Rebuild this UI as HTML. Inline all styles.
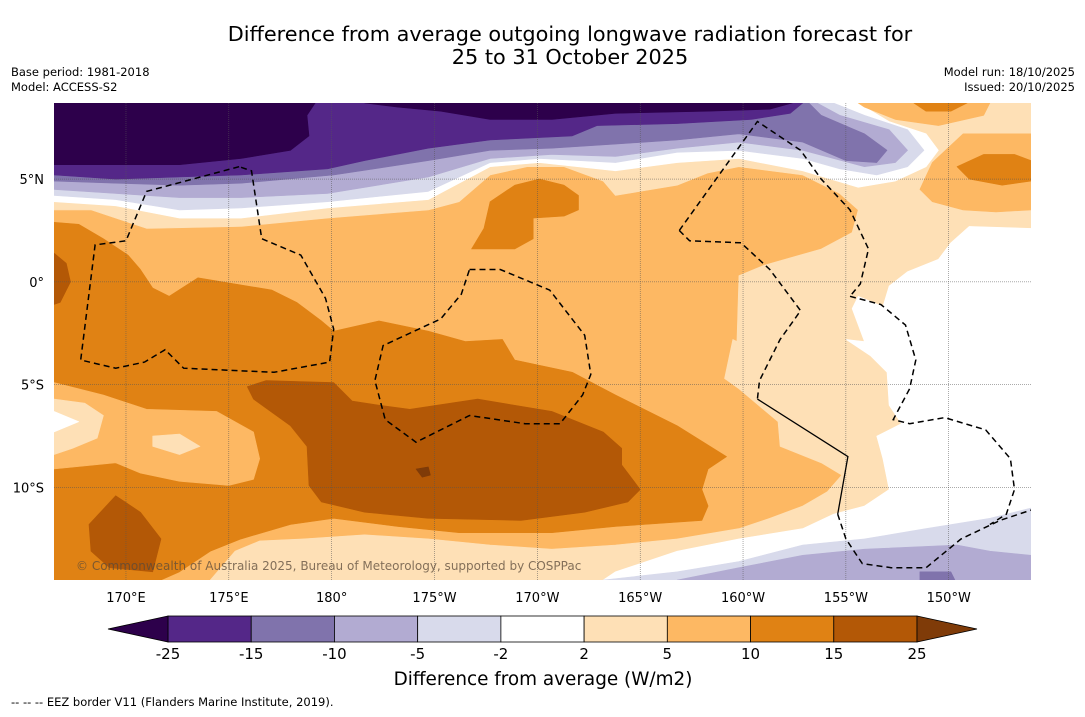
<!DOCTYPE html>
<html><head><meta charset="utf-8"><style>
html,body{margin:0;padding:0;background:#fff;}
body{width:1085px;height:713px;overflow:hidden;font-family:"DejaVu Sans","Liberation Sans",sans-serif;}
</style></head>
<body>
<svg id="chart" width="1085" height="713" viewBox="0 0 1085 713" xmlns="http://www.w3.org/2000/svg" font-family="DejaVu Sans, Liberation Sans, sans-serif">
  <text x="570" y="41" font-size="20.8" text-anchor="middle" fill="#000">Difference from average outgoing longwave radiation forecast for</text>
  <text x="570" y="64" font-size="20.8" text-anchor="middle" fill="#000">25 to 31 October 2025</text>
  <text x="11" y="76" font-size="11.5">Base period: 1981-2018</text>
  <text x="11" y="91" font-size="11.5">Model: ACCESS-S2</text>
  <text x="1075" y="76" font-size="11.5" text-anchor="end">Model run: 18/10/2025</text>
  <text x="1075" y="91" font-size="11.5" text-anchor="end">Issued: 20/10/2025</text>
  <defs><clipPath id="mapclip"><rect x="54" y="103" width="977" height="477"/></clipPath></defs>
  <g id="map" clip-path="url(#mapclip)"></g>
  <g id="axes"></g>
  <g id="cbar"></g>
  <text x="543" y="685" font-size="18.4" text-anchor="middle">Difference from average (W/m2)</text>
  <text x="11" y="706" font-size="11.5">--  --  -- EEZ border V11 (Flanders Marine Institute, 2019).</text>
</svg>
<script>
// ---- data ----
const lonTicks = [170,175,180,185,190,195,200,205,210];
const lonTickLabels = ["170°E","175°E","180°","175°W","170°W","165°W","160°W","155°W","150°W"];
const latTicks = [5,0,-5,-10];
const latTickLabels = ["5°N","0°","5°S","10°S"];
const cbarLevels = [-25,-15,-10,-5,-2,2,5,10,15,25];
const cbarColors = ["#542788","#8073ac","#b2abd2","#d8daeb","#ffffff","#fee0b6","#fdb863","#e08214","#b35806"];
const cbarUnder = "#2d004b";
const cbarOver = "#7f3b08";
// contour regions [lon(°E), lat] drawn in order (value class -> colour)
const regionClasses = ["pale","white-top","lav","lilac","purple-mid","purple","dark","dark",
  "white-right","lav","lilac","purple-mid","light-orange","dark-orange","light-orange","dark-orange","dark-orange",
  "dark-orange","mid-orange","pale","white-top","pale","brown","brown","brown","darkbrown"];
const classColor = {"pale":"#fee0b6","white-top":"#ffffff","white-right":"#ffffff","lav":"#d8daeb","lilac":"#b2abd2","purple-mid":"#8073ac","purple":"#542788","dark":"#2d004b","light-orange":"#fdb863","dark-orange":"#e08214","mid-orange":"#fdb863","brown":"#b35806","darkbrown":"#7f3b08"};
const regions = [
 [[166.5,8.7],[214.0,8.7],[214.0,-14.5],[174.1,-14.5],[175.3,-13.1],[176.5,-12.6],[178.6,-12.5],[181.6,-12.3],[184.7,-12.5],[187.7,-12.8],[190.7,-13.0],[193.8,-12.8],[196.8,-12.5],[199.8,-12.0],[201.3,-11.5],[202.9,-10.9],[204.1,-10.2],[204.8,-9.4],[203.8,-8.8],[201.8,-8.0],[201.7,-6.8],[199.8,-5.2],[199.1,-4.7],[199.5,-2.8],[199.7,-2.9],[199.8,0.3],[201.0,0.8],[203.8,1.6],[205.3,2.4],[205.6,3.5],[204.7,4.3],[202.9,5.2],[199.8,5.6],[198.3,5.3],[196.8,4.7],[193.8,4.2],[193.2,4.9],[191.3,5.6],[189.5,5.6],[187.7,5.2],[186.2,3.9],[184.7,3.5],[179.8,3.1],[175.6,2.7],[171.0,2.6],[168.3,3.5],[166.5,3.5]],
 [[166.5,8.7],[205.6,8.7],[207.1,7.8],[208.9,7.2],[209.5,6.4],[208.9,5.6],[207.4,4.9],[205.6,4.6],[202.9,5.4],[199.8,6.0],[196.8,5.8],[193.8,5.4],[190.1,5.8],[187.7,5.6],[184.7,4.0],[179.8,3.6],[175.6,3.1],[172.6,3.1],[169.5,3.7],[166.5,3.9]],
 [[166.5,8.7],[204.4,8.7],[205.9,8.1],[208.0,7.4],[208.8,6.4],[208.0,5.6],[206.5,5.2],[204.7,5.5],[202.9,6.0],[199.8,6.4],[196.8,6.3],[193.8,5.8],[190.1,6.0],[187.7,5.8],[184.7,4.4],[179.8,3.9],[175.6,3.6],[172.6,3.5],[169.5,4.0],[166.5,4.2]],
 [[166.5,8.7],[203.6,8.7],[204.7,8.1],[207.1,7.4],[208.0,6.4],[207.4,5.8],[205.9,5.6],[202.9,6.4],[199.8,6.8],[196.8,6.5],[193.8,6.1],[190.7,6.2],[187.7,6.0],[184.7,5.1],[179.8,4.3],[175.6,4.1],[172.6,4.1],[169.5,4.3],[166.5,4.5]],
 [[166.5,8.7],[203.2,8.7],[203.8,8.1],[205.9,7.2],[207.0,6.4],[206.5,5.8],[205.0,5.9],[202.9,6.8],[199.8,7.2],[196.8,6.9],[193.8,6.7],[190.7,6.5],[187.7,6.4],[184.7,5.9],[180.1,5.2],[175.6,4.8],[172.6,4.7],[169.5,4.8],[166.5,4.9]],
 [[166.5,8.7],[202.9,8.7],[202.3,8.2],[200.4,7.9],[196.8,7.7],[192.9,7.6],[191.7,7.1],[187.7,6.9],[184.7,6.5],[181.6,5.9],[179.8,5.5],[175.6,5.2],[172.6,5.1],[169.5,5.0],[166.5,5.2]],
 [[166.5,8.7],[179.2,8.7],[178.8,8.1],[178.9,7.1],[178.0,6.4],[175.6,6.0],[172.6,5.7],[169.5,5.7],[166.5,5.7]],
 [[181.6,8.7],[202.4,8.7],[201.3,8.4],[198.3,8.3],[193.8,8.2],[190.7,7.9],[187.7,7.9],[185.3,8.3],[183.2,8.5]],
 [[214.0,2.6],[211.0,2.7],[210.1,1.9],[209.5,1.1],[208.0,0.5],[207.1,-0.2],[206.8,-1.2],[205.6,-0.7],[205.3,-1.3],[205.9,-2.9],[205.0,-2.8],[206.2,-3.6],[207.0,-4.4],[207.1,-6.0],[207.7,-6.9],[206.5,-7.5],[206.8,-8.6],[207.1,-10.1],[205.9,-10.9],[204.4,-11.3],[202.9,-12.0],[199.8,-12.5],[196.8,-13.1],[193.8,-14.1],[193.2,-14.5],[214.0,-14.5]],
 [[193.2,-14.5],[196.8,-14.1],[199.8,-13.6],[202.9,-12.8],[205.9,-12.5],[208.9,-12.0],[212.0,-11.5],[214.0,-11.0],[214.0,-14.5]],
 [[196.8,-14.5],[199.8,-13.9],[202.9,-13.3],[205.9,-13.0],[210.4,-12.8],[212.0,-13.1],[214.0,-13.3],[214.0,-14.5]],
 [[208.6,-14.1],[210.1,-14.1],[210.3,-14.5],[208.6,-14.5]],
 [[205.6,8.7],[212.0,8.7],[211.7,8.1],[209.5,7.6],[207.4,7.9],[205.9,8.5]],
 [[208.3,8.7],[210.9,8.7],[210.1,8.3],[208.9,8.3]],
 [[214.0,7.2],[210.7,7.2],[209.2,5.8],[208.6,4.5],[209.2,3.9],[210.7,3.5],[212.3,3.4],[214.0,3.5]],
 [[210.4,5.6],[211.7,6.2],[213.2,6.2],[214.0,5.9],[214.0,4.9],[212.6,4.7],[211.0,5.0]],
 [[187.7,3.9],[188.9,4.7],[190.1,5.0],[191.3,4.7],[192.0,4.2],[192.0,3.5],[191.3,3.2],[189.8,3.1],[189.8,2.1],[188.9,1.6],[186.8,1.6],[187.4,2.6]],
 [[166.5,2.9],[167.7,2.8],[168.9,2.1],[170.1,1.3],[170.7,0.6],[171.3,-0.3],[172.1,-0.7],[173.5,0.2],[174.7,0],[177.1,-0.4],[178.3,-1.0],[179.5,-1.9],[180.1,-2.4],[182.3,-1.9],[184.7,-2.4],[186.5,-2.9],[188.3,-2.8],[188.9,-3.8],[191.7,-4.4],[193.8,-5.5],[196.8,-7.0],[199.2,-8.5],[198.3,-9.1],[198.0,-10.1],[198.3,-10.9],[198.0,-11.6],[193.8,-11.9],[190.7,-12.2],[186.2,-12.2],[183.2,-11.9],[180.1,-11.5],[178.0,-11.8],[175.6,-12.5],[174.1,-13.1],[172.6,-14.1],[171.7,-14.5],[166.5,-14.5]],
 [[166.5,-4.9],[168.9,-5.5],[171.0,-6.2],[174.4,-6.3],[176.2,-7.3],[176.5,-8.6],[176.2,-9.6],[175.0,-9.9],[172.6,-9.7],[170.7,-9.3],[169.5,-8.8],[166.5,-9.1]],
 [[166.5,-5.7],[168.0,-5.9],[168.9,-6.5],[168.6,-7.6],[167.4,-8.1],[166.5,-8.4]],
 [[166.5,-6.3],[167.7,-6.8],[166.5,-7.3]],
 [[171.3,-7.5],[172.6,-7.4],[173.6,-8.0],[172.6,-8.4],[171.3,-8.0]],
 [[175.9,-5.1],[176.8,-4.8],[180.1,-4.9],[181.0,-5.8],[182.3,-6.0],[183.8,-6.2],[187.1,-5.7],[190.7,-6.3],[193.2,-7.3],[194.1,-8.1],[194.1,-8.9],[195.0,-10.1],[194.4,-10.7],[192.3,-11.2],[189.2,-11.6],[184.7,-11.5],[181.6,-11.2],[179.5,-10.7],[178.9,-9.9],[178.8,-8.0],[178.0,-7.0],[176.2,-5.7]],
 [[169.5,-10.4],[170.7,-11.2],[171.7,-12.5],[171.3,-14.1],[169.2,-13.9],[168.3,-13.1],[168.2,-11.8]],
 [[166.5,1.4],[167.1,0.9],[167.3,0],[166.8,-1.0],[166.5,-1.1]],
 [[184.1,-9.1],[184.7,-9.0],[184.8,-9.4],[184.4,-9.5]]
];
const eezDashed = [
 [[175.5,5.6],[171.0,4.4],[170.0,2.0],[168.5,1.8],[167.8,-3.8],[169.5,-4.2],[170.9,-3.9],[171.9,-3.3],[172.8,-4.2],[177.2,-4.4],[179.9,-3.9],[180.1,-2.3],[179.7,-0.8],[178.5,1.3],[176.6,2.1],[176.1,5.4],[175.5,5.6]],
 [[186.7,0.6],[188.2,0.6],[190.6,-0.4],[192.3,-2.6],[192.6,-4.5],[192.2,-5.5],[191.1,-6.9],[189.4,-6.9],[186.7,-6.5],[184.1,-7.8],[182.6,-6.7],[182.1,-4.8],[182.5,-3.1],[185.3,-1.8],[186.3,-0.6],[186.7,0.6]],
 [[196.9,2.5],[200.7,7.8],[202.8,6.4],[203.8,5.0],[205.2,3.5],[206.1,1.6],[205.7,-0.1],[205.2,-0.7]],
 [[196.9,2.5],[197.4,2.0],[199.9,1.9],[201.3,0.6],[202.8,-1.4],[201.8,-2.8],[200.8,-4.8],[200.7,-5.7]],
 [[204.6,-11.3],[205.0,-12.5],[205.8,-13.7],[207.2,-13.9],[208.9,-13.9],[210.6,-12.5],[212.5,-11.6],[214.0,-11.1]],
 [[205.2,-0.7],[206.7,-1.1],[207.9,-2.1],[208.4,-3.8],[208.1,-5.2],[207.3,-6.7],[208.1,-6.9],[209.8,-6.6],[211.8,-7.2],[213.0,-8.6],[213.2,-10.1],[212.8,-11.3],[212.0,-11.8]]
];
const eezSolid = [[200.7,-5.7],[205.1,-8.5],[204.6,-11.3]];

// ---- axes ----
const NS="http://www.w3.org/2000/svg";
const X0=54,X1=1031,Y0=103,Y1=580,LON0=166.5,LON1=214.0,LAT0=8.7,LAT1=-14.5;
function xs(lon){return X0+(lon-LON0)/(LON1-LON0)*(X1-X0);}
function ys(lat){return Y0+(LAT0-lat)/(LAT0-LAT1)*(Y1-Y0);}
function mk(tag,attrs,parent){const e=document.createElementNS(NS,tag);for(const k in attrs)e.setAttribute(k,attrs[k]);parent.appendChild(e);return e;}
function pts(arr){return arr.map(p=>xs(p[0]).toFixed(1)+","+ys(p[1]).toFixed(1)).join(" ");}

const map=document.getElementById('map');
const bg=mk('rect',{x:X0,y:Y0,width:X1-X0,height:Y1-Y0,fill:'#fdb863'},map);


regions.forEach((r,i)=>{
  const p=mk('polygon',{points:pts(r),fill:classColor[regionClasses[i]],stroke:classColor[regionClasses[i]],'stroke-width':0.6,'stroke-linejoin':'round'},map);
  
  
});
lonTicks.forEach(l=>{
  const g=mk('line',{x1:xs(l),x2:xs(l),y1:Y0,y2:Y1,stroke:'#555','stroke-width':0.5,'stroke-dasharray':'1,1'},map);
  
  
});
latTicks.forEach(l=>{
  const g=mk('line',{x1:X0,x2:X1,y1:ys(l),y2:ys(l),stroke:'#555','stroke-width':0.5,'stroke-dasharray':'1,1'},map);
  
  
});
eezDashed.forEach(line=>{
  const e=mk('polyline',{points:pts(line),fill:'none',stroke:'#000','stroke-width':1.5,'stroke-dasharray':'6,4'},map);
  
  
});
const es=mk('polyline',{points:pts(eezSolid),fill:'none',stroke:'#000','stroke-width':1.3},map);


const cp=mk('text',{x:76,y:570,'font-size':12,fill:'#5a4a3a','fill-opacity':0.75},map);
cp.textContent='© Commonwealth of Australia 2025, Bureau of Meteorology, supported by COSPPac';



const axes=document.getElementById('axes');
lonTicks.forEach((l,i)=>{
  const t=mk('text',{x:xs(l),y:602,'font-size':13,'text-anchor':'middle'},axes);
  t.textContent=lonTickLabels[i];
  
  
});
latTicks.forEach((l,i)=>{
  const t=mk('text',{x:44,y:ys(l)+5,'font-size':13,'text-anchor':'end'},axes);
  t.textContent=latTickLabels[i];
  
  
});

// ---- colorbar ----
const cb=document.getElementById('cbar');
const CB0=168,CB1=917,CBY=616,CBH=26,TRI=60;
const n=cbarLevels.length-1;
function cx(i){return CB0+i*(CB1-CB0)/n;}
cbarColors.forEach((c,i)=>{
  const r=mk('rect',{x:cx(i),y:CBY,width:cx(i+1)-cx(i),height:CBH,fill:c,stroke:'#000','stroke-width':0.8},cb);
  
  
});
const tu=mk('polygon',{points:`${CB0},${CBY} ${CB0-TRI},${CBY+CBH/2} ${CB0},${CBY+CBH}`,fill:cbarUnder,stroke:'#000','stroke-width':0.8},cb);


const to=mk('polygon',{points:`${CB1},${CBY} ${CB1+TRI},${CBY+CBH/2} ${CB1},${CBY+CBH}`,fill:cbarOver,stroke:'#000','stroke-width':0.8},cb);


cbarLevels.forEach((v,i)=>{
  const t=mk('text',{x:cx(i),y:659,'font-size':15,'text-anchor':'middle'},cb);
  t.textContent=String(v);
  
  
});
</script>
</body></html>
